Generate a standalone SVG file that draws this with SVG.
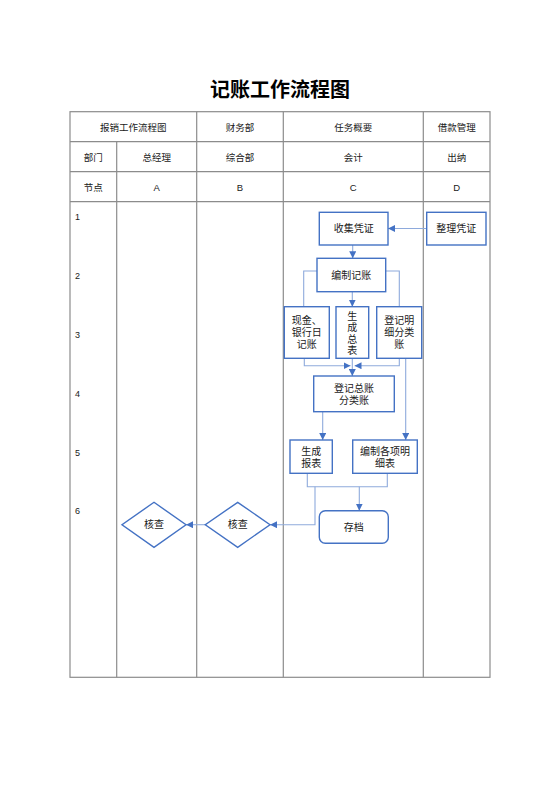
<svg xmlns="http://www.w3.org/2000/svg" width="560" height="792" viewBox="0 0 560 792">
<style>
text{font-family:"Liberation Sans","Noto Sans CJK SC",sans-serif;fill:#1a1a1a;text-anchor:middle;dominant-baseline:central}
.t{font-size:20px;font-weight:bold;fill:#000}
.h{font-size:9.5px}
.n{font-size:9px;text-anchor:start}
.b{font-size:10px}
.grid{stroke:#8c8c8c;stroke-width:1.2;fill:none}
.box{fill:#fff;stroke:#4472c4;stroke-width:1.4}
.ln{fill:none;stroke:#8eaadc;stroke-width:1.1}
</style>
<defs>
<marker id="ah" viewBox="0 0 10 10" refX="10" refY="5" markerWidth="7" markerHeight="7" markerUnits="userSpaceOnUse" orient="auto">
<path d="M0,0 L10,5 L0,10 z" fill="#4472c4"/>
</marker>
</defs>
<rect width="560" height="792" fill="#fff"/>
<text class="t" x="280" y="90">记账工作流程图</text>
<g id="table">
<rect class="grid" x="70" y="111.7" width="420" height="565.6"/>
<line class="grid" x1="70" y1="141.7" x2="490" y2="141.7"/>
<line class="grid" x1="70" y1="171.7" x2="490" y2="171.7"/>
<line class="grid" x1="70" y1="201.7" x2="490" y2="201.7"/>
<line class="grid" x1="116.7" y1="141.7" x2="116.7" y2="677.3"/>
<line class="grid" x1="196.7" y1="111.7" x2="196.7" y2="677.3"/>
<line class="grid" x1="283.3" y1="111.7" x2="283.3" y2="677.3"/>
<line class="grid" x1="423.3" y1="111.7" x2="423.3" y2="677.3"/>
<text class="h" x="133.3" y="127">报销工作流程图</text>
<text class="h" x="240" y="127">财务部</text>
<text class="h" x="353.3" y="127">任务概要</text>
<text class="h" x="456.7" y="127">借款管理</text>
<text class="h" x="93.3" y="157">部门</text>
<text class="h" x="156.7" y="157">总经理</text>
<text class="h" x="240" y="157">综合部</text>
<text class="h" x="353.3" y="157">会计</text>
<text class="h" x="456.7" y="157">出纳</text>
<text class="h" x="93.3" y="187">节点</text>
<text class="h" x="156.7" y="187">A</text>
<text class="h" x="240" y="187">B</text>
<text class="h" x="353.3" y="187">C</text>
<text class="h" x="456.7" y="187">D</text>
<text class="n" x="75" y="217">1</text>
<text class="n" x="75" y="276">2</text>
<text class="n" x="75" y="335">3</text>
<text class="n" x="75" y="393.5">4</text>
<text class="n" x="75" y="452.5">5</text>
<text class="n" x="75" y="511">6</text>
</g>
<g id="connectors">
<line class="ln" x1="426.7" y1="228.5" x2="388" y2="228.5" marker-end="url(#ah)"/>
<line class="ln" x1="352.7" y1="245" x2="352.7" y2="258.3" marker-end="url(#ah)"/>
<polyline class="ln" points="317,271 303.7,271 303.7,306.7"/>
<polyline class="ln" points="385.7,271 399.3,271 399.3,306.7"/>
<line class="ln" x1="352.3" y1="291.7" x2="352.3" y2="306.7" marker-end="url(#ah)"/>
<polyline class="ln" points="304.3,358.3 304.3,365.7 350.5,365.7" marker-end="url(#ah)"/>
<polyline class="ln" points="399.3,358.3 399.3,365.7 354.5,365.7" marker-end="url(#ah)"/>
<line class="ln" x1="352.3" y1="358.3" x2="352.3" y2="376" marker-end="url(#ah)"/>
<line class="ln" x1="405.7" y1="358.3" x2="405.7" y2="440" marker-end="url(#ah)"/>
<line class="ln" x1="322.7" y1="411.7" x2="322.7" y2="440" marker-end="url(#ah)"/>
<polyline class="ln" points="307.3,473.3 307.3,486.7 387.3,486.7 387.3,473.3"/>
<line class="ln" x1="359.3" y1="486.7" x2="359.3" y2="510.7" marker-end="url(#ah)"/>
<polyline class="ln" points="315,486.7 315,524.7 270,524.7" marker-end="url(#ah)"/>
<line class="ln" x1="205.3" y1="524.7" x2="186" y2="524.7" marker-end="url(#ah)"/>
</g>
<g id="n-zhengli"><rect class="box" x="426.7" y="212.3" width="59.3" height="32.7"/><text class="b" x="456.3" y="228.7">整理凭证</text></g>
<g id="n-shouji"><rect class="box" x="319.3" y="212.3" width="68.7" height="32.7"/><text class="b" x="353.7" y="228.7">收集凭证</text></g>
<g id="n-bianzhi"><rect class="box" x="317" y="258.3" width="68.7" height="33.4"/><text class="b" x="351.3" y="275">编制记账</text></g>
<g id="n-xianjin"><rect class="box" x="284.3" y="306.7" width="45" height="51.6"/><text class="b" x="306.8" y="320.5">现金、</text><text class="b" x="306.8" y="332.5">银行日</text><text class="b" x="306.8" y="344.5">记账</text></g>
<g id="n-zongbiao"><rect class="box" x="336" y="306.7" width="32.7" height="51.6"/><text class="b" x="352.3" y="316">生</text><text class="b" x="352.3" y="327.5">成</text><text class="b" x="352.3" y="339">总</text><text class="b" x="352.3" y="350.5">表</text></g>
<g id="n-mingxi"><rect class="box" x="376.7" y="306.7" width="45" height="51.6"/><text class="b" x="399.2" y="320.5">登记明</text><text class="b" x="399.2" y="332.5">细分类</text><text class="b" x="399.2" y="344.5">账</text></g>
<g id="n-zongzhang"><rect class="box" x="313.7" y="376" width="80.6" height="35.7"/><text class="b" x="354" y="388">登记总账</text><text class="b" x="354" y="400">分类账</text></g>
<g id="n-baobiao"><rect class="box" x="290" y="440" width="42.3" height="33.3"/><text class="b" x="311.2" y="451">生成</text><text class="b" x="311.2" y="463">报表</text></g>
<g id="n-mingxibiao"><rect class="box" x="352.7" y="440" width="64.6" height="33.3"/><text class="b" x="385" y="451">编制各项明</text><text class="b" x="385" y="463">细表</text></g>
<g id="n-cundang"><rect class="box" x="319.3" y="510.7" width="69" height="32.6" rx="6"/><text class="b" x="353.8" y="527">存档</text></g>
<g id="n-hecha-b"><polygon class="box" points="237.7,502.3 270,524.7 237.7,547.3 205.3,524.7"/><text class="b" x="237.7" y="524.7">核查</text></g>
<g id="n-hecha-a"><polygon class="box" points="154,502.3 186,524.7 154,547.3 122,524.7"/><text class="b" x="154" y="524.7">核查</text></g>
</svg>
